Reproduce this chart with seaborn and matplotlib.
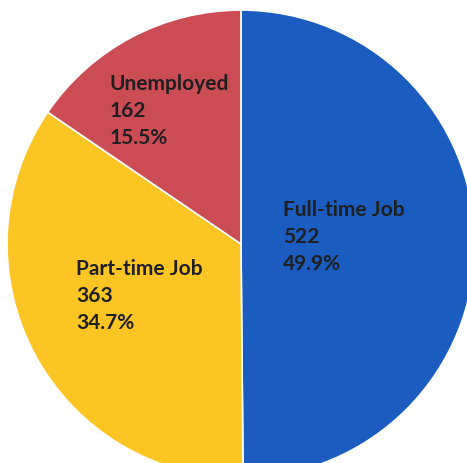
import matplotlib
matplotlib.use("Agg")
import matplotlib.pyplot as plt
import seaborn as sns

# Datos del gráfico
categories = ['Full-time Job', 'Part-time Job', 'Unemployed']
counts = [522, 363, 162]
colors = ['#1a5cc0', '#fdc524', '#cc4c55']

sns.set_style('white')
plt.rcParams['font.family'] = ['Lato', 'DejaVu Sans']

total = sum(counts)
labels = [f'{c}\n{n}\n{n / total * 100:.1f}%' for c, n in zip(categories, counts)]

fig = plt.figure(figsize=(4.67, 4.63), dpi=100)
ax = fig.add_axes([0, 0, 1, 1])
ax.pie(counts, colors=colors, startangle=90, counterclock=False, radius=1,
       wedgeprops={'edgecolor': 'white', 'linewidth': 1.2})
ax.set_xlim(-1.030, 0.966)
ax.set_ylim(-0.936, 1.043)
ax.set_aspect('equal')
ax.axis('off')

# posiciones de las etiquetas (izquierda, centro vertical)
label_pos = [(0.179, 0.030), (-0.705, -0.222), (-0.560, 0.568)]
for lab, (x, y) in zip(labels, label_pos):
    ax.text(x, y, lab, ha='left', va='center', fontsize=15, fontweight='bold',
            color='#1f1f1f', linespacing=1.45)

plt.savefig('out.png', dpi=100)
